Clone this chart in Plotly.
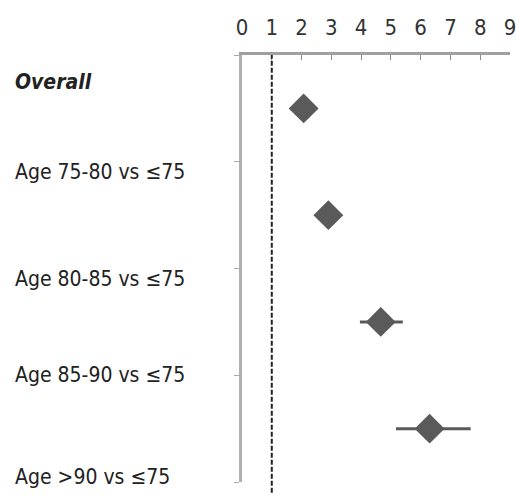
import plotly.graph_objects as go

# Data
row_labels = ["Overall", "Age 75-80 vs ≤75", "Age 80-85 vs ≤75", "Age 85-90 vs ≤75", "Age >90 vs ≤75"]
point_rows = [0.5, 1.5, 2.5, 3.5]
estimates = [2.07, 2.9, 4.66, 6.3]
ci_low = [1.9, 2.7, 3.96, 5.17]
ci_high = [2.25, 3.1, 5.4, 7.68]
x_ticks = [0, 1, 2, 3, 4, 5, 6, 7, 8, 9]

label_pos = [0.25, 1.1, 2.1, 3.0, 3.95]

FONT = "Liberation Sans Narrow, DejaVu Sans Condensed, Arial Narrow, sans-serif"

L, R, T, B = 242, 6, 55, 16
W, H = 516, 498
plot_w = W - L - R

fig = go.Figure()
fig.add_trace(go.Scatter(
    x=estimates, y=point_rows, mode="markers",
    marker=dict(symbol="diamond", size=23, color="#5a5a5a"),
    error_x=dict(type="data", symmetric=False,
                 array=[h - e for h, e in zip(ci_high, estimates)],
                 arrayminus=[e - l for e, l in zip(estimates, ci_low)],
                 color="#5a5a5a", thickness=3, width=0),
    showlegend=False, hoverinfo="skip",
))

fig.add_shape(type="line", xref="x", yref="paper", x0=1, x1=1, y0=-0.025, y1=1,
              line=dict(color="#222222", width=2, dash="5px,2px"))

for lab, yp in zip(row_labels, label_pos):
    txt = f"<i><b>{lab}</b></i>" if lab == "Overall" else lab
    fig.add_annotation(x=(13 - L) / plot_w, xref="paper", y=yp, yref="y", text=txt,
                       showarrow=False, xanchor="left", yanchor="middle",
                       font=dict(family=FONT, size=21, color="#222222"))

fig.update_layout(
    width=W, height=H,
    margin=dict(l=L, r=R, t=T, b=B, autoexpand=False),
    plot_bgcolor="white", paper_bgcolor="white",
    xaxis=dict(range=[0, 9], side="top", tickvals=x_ticks, ticktext=[str(t) for t in x_ticks],
               showgrid=False, zeroline=False, showline=True, linecolor="#a0a0a0", linewidth=3,
               ticks="inside", ticklen=5, tickcolor="#888888", automargin=False,
               ticklabelstandoff=8, ticklabeloverflow="allow",
               tickfont=dict(family=FONT, size=22, color="#333333")),
    yaxis=dict(range=[4, 0], tickvals=[0, 1, 2, 3, 4], showticklabels=False, automargin=False,
               showgrid=False, zeroline=False, showline=True, linecolor="#b0b0b0", linewidth=3,
               ticks="outside", ticklen=5, tickcolor="#aaaaaa"),
)

fig.write_html("out.html", config={"displayModeBar": False},
               post_script="document.body.style.margin='0';document.body.style.overflow='hidden';")
